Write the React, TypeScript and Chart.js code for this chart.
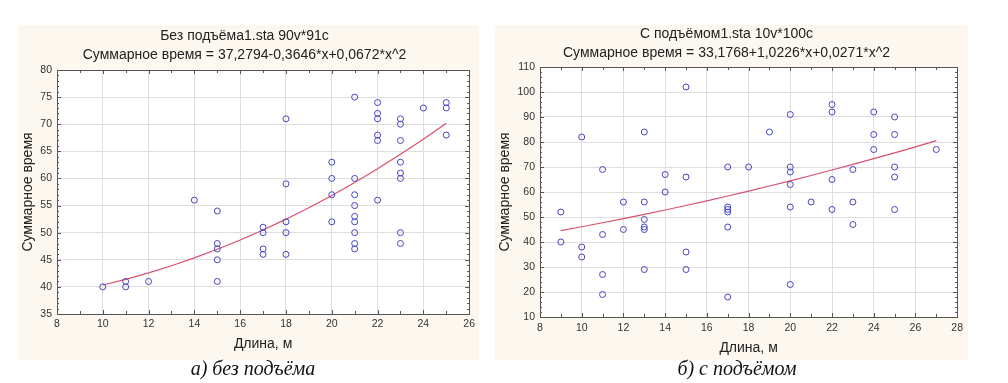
import { useEffect, useRef } from "react";
import { Chart, registerables } from "chart.js";

Chart.register(...registerables);

const FONT = "'Liberation Sans', Arial, Helvetica, sans-serif";
Chart.defaults.font.family = FONT;

// ---------- Left chart: без подъёма ----------
const leftTitle = ["Без подъёма1.sta 90v*91c", "Суммарное время = 37,2794-0,3646*x+0,0672*x^2"];
const leftLength = [
  10, 11, 11, 12, 14, 15, 15, 15, 15, 15, 17, 17, 17, 17, 18, 18, 18, 18, 18,
  20, 20, 20, 20, 21, 21, 21, 21, 21, 21, 21, 21, 21, 22, 22, 22, 22, 22, 22,
  23, 23, 23, 23, 23, 23, 23, 23, 24, 25, 25, 25,
];
const leftTime = [
  40, 41, 40, 41, 56, 54, 48, 47, 45, 41, 51, 50, 47, 46, 71, 59, 52, 50, 46,
  63, 60, 57, 52, 75, 60, 57, 55, 53, 52, 50, 48, 47, 74, 72, 71, 68, 67, 56,
  71, 70, 67, 63, 61, 60, 50, 48, 73, 74, 73, 68,
];
const leftFitX = [10, 11, 12, 13, 14, 15, 16, 17, 18, 19, 20, 21, 22, 23, 24, 25];
const leftFitY = [40.35, 41.4, 42.58, 43.9, 45.35, 46.93, 48.65, 50.5, 52.49, 54.61, 56.87, 59.26, 61.78, 64.44, 67.24, 70.16];
const leftCaption = "а) без подъёма";

// ---------- Right chart: с подъёмом ----------
const rightTitle = ["С подъёмом1.sta 10v*100c", "Суммарное время = 33,1768+1,0226*x+0,0271*x^2"];
const rightLength = [
  9, 9, 10, 10, 10, 11, 11, 11, 11, 12, 12, 13, 13, 13, 13, 13, 13, 14, 14,
  15, 15, 15, 15, 17, 17, 17, 17, 17, 17, 18, 19, 20, 20, 20, 20, 20, 20, 21,
  22, 22, 22, 22, 23, 23, 23, 24, 24, 24, 25, 25, 25, 25, 25, 27,
];
const rightTime = [
  52, 40, 82, 38, 34, 69, 43, 27, 19, 56, 45, 84, 56, 49, 46, 45, 29, 67, 60,
  102, 66, 36, 29, 70, 54, 53, 52, 46, 18, 70, 84, 91, 70, 68, 63, 54, 23, 56,
  95, 92, 65, 53, 69, 56, 47, 92, 83, 77, 90, 83, 70, 66, 53, 77,
];
const rightFitX = [9, 10, 11, 12, 13, 14, 15, 16, 17, 18, 19, 20, 21, 22, 23, 24, 25, 26, 27];
const rightFitY = [44.58, 46.11, 47.7, 49.35, 51.05, 52.8, 54.61, 56.48, 58.39, 60.36, 62.39, 64.47, 66.6, 68.79, 71.03, 73.33, 75.68, 78.08, 80.54];
const rightCaption = "б) с подъёмом";

const xTitle = "Длина, м";
const yTitle = "Суммарное время";

const CREAM = "#fcf8ef";
const POINT = "#4646c0";
const FIT = "#d9506c";
const GRID = "#dedede";
const AXIS = "#555555";
const TEXT = "#333333";

type Spec = {
  left: number;
  top: number;
  width: number;
  height: number;
  plotLeft: number;
  plotRight: number;
  plotTop: number;
  plotBottom: number;
  titlePadTop: number;
  xTickPad: number;
  xTitlePadBottom: number;
  title: string[];
  xs: number[];
  ys: number[];
  fitX: number[];
  fitY: number[];
  xMin: number;
  xMax: number;
  xStep: number;
  yMin: number;
  yMax: number;
  yStep: number;
  caption: string;
  captionX: number;
};

const specs: Spec[] = [
  {
    left: 18, top: 25, width: 461, height: 335,
    plotLeft: 39, plotRight: 453, plotTop: 45, plotBottom: 289,
    titlePadTop: 2, xTickPad: 4, xTitlePadBottom: 7,
    title: leftTitle, xs: leftLength, ys: leftTime, fitX: leftFitX, fitY: leftFitY,
    xMin: 8, xMax: 26, xStep: 2, yMin: 35, yMax: 80, yStep: 5,
    caption: leftCaption, captionX: 253,
  },
  {
    left: 495, top: 25, width: 473, height: 335,
    plotLeft: 45, plotRight: 463, plotTop: 42, plotBottom: 292,
    titlePadTop: 0, xTickPad: 5, xTitlePadBottom: 3,
    title: rightTitle, xs: rightLength, ys: rightTime, fitX: rightFitX, fitY: rightFitY,
    xMin: 8, xMax: 28, xStep: 2, yMin: 10, yMax: 110, yStep: 10,
    caption: rightCaption, captionX: 737,
  },
];

const framePlugin = {
  id: "frame",
  beforeDraw(chart: any) {
    const { ctx, chartArea: a } = chart;
    ctx.save();
    ctx.fillStyle = "#ffffff";
    ctx.fillRect(a.left, a.top, a.right - a.left, a.bottom - a.top);
    ctx.restore();
  },
  afterDraw(chart: any) {
    const { ctx, chartArea: a } = chart;
    const xs = chart.scales.x;
    const ys = chart.scales.y;
    ctx.save();
    ctx.strokeStyle = AXIS;
    ctx.lineWidth = 1;
    ctx.strokeRect(Math.round(a.left) + 0.5, Math.round(a.top) + 0.5, Math.round(a.right - a.left), Math.round(a.bottom - a.top));
    ctx.beginPath();
    const xMinor = xs.options.ticks.stepSize / 2;
    for (let v = xs.min; v <= xs.max + 1e-9; v += xMinor) {
      const p = Math.round(xs.getPixelForValue(v)) + 0.5;
      const major = Math.abs(((v - xs.min) / xs.options.ticks.stepSize) % 1) < 1e-6;
      const len = major ? 4 : 3;
      ctx.moveTo(p, a.top);
      ctx.lineTo(p, a.top + len);
      ctx.moveTo(p, a.bottom);
      ctx.lineTo(p, a.bottom - len);
    }
    const yMinor = ys.options.ticks.stepSize / 5;
    for (let v = ys.min; v <= ys.max + 1e-9; v += yMinor) {
      const p = Math.round(ys.getPixelForValue(v)) + 0.5;
      const major = Math.abs(((v - ys.min) / ys.options.ticks.stepSize) % 1) < 1e-6;
      const len = major ? 4 : 2;
      ctx.moveTo(a.left, p);
      ctx.lineTo(a.left + len, p);
      ctx.moveTo(a.right, p);
      ctx.lineTo(a.right - len, p);
    }
    ctx.stroke();
    ctx.restore();
  },
};

function ScatterPanel({ spec }: { spec: Spec }) {
  const ref = useRef<HTMLCanvasElement | null>(null);

  useEffect(() => {
    const canvas = ref.current;
    if (!canvas) return;
    const points = spec.xs.map((x, i) => ({ x, y: spec.ys[i] }));
    const fit = spec.fitX.map((x, i) => ({ x, y: spec.fitY[i] }));
    const chart = new Chart(canvas, {
      type: "scatter",
      data: {
        datasets: [
          {
            data: fit,
            showLine: true,
            borderColor: FIT,
            borderWidth: 1.2,
            pointRadius: 0,
            fill: false,
            tension: 0,
            order: 2,
          } as any,
          {
            data: points,
            pointRadius: 3,
            pointStyle: "circle",
            borderColor: POINT,
            backgroundColor: "rgba(0,0,0,0)",
            borderWidth: 1,
            order: 1,
          } as any,
        ],
      },
      options: {
        responsive: false,
        animation: false,
        events: [],
        layout: {
          padding: { left: 0, top: 0, bottom: 0, right: spec.width - spec.plotRight },
        },
        plugins: {
          legend: { display: false },
          tooltip: { enabled: false },
          title: {
            display: true,
            text: spec.title,
            color: "#222222",
            font: { family: FONT, size: 14, weight: "normal", lineHeight: 19 / 14 },
            padding: { top: spec.titlePadTop, bottom: spec.plotTop - spec.titlePadTop - 38 },
          },
        },
        scales: {
          x: {
            type: "linear",
            min: spec.xMin,
            max: spec.xMax,
            ticks: {
              stepSize: spec.xStep,
              color: TEXT,
              font: { family: FONT, size: 10.5 },
              padding: spec.xTickPad,
              maxRotation: 0,
            },
            grid: { color: GRID, drawTicks: false },
            border: { color: AXIS, width: 1 },
            title: {
              display: true,
              text: xTitle,
              color: "#222222",
              font: { family: FONT, size: 14, lineHeight: 1.2 },
              padding: { top: 0, bottom: spec.xTitlePadBottom },
            },
            afterFit: (s: any) => {
              s.height = spec.height - spec.plotBottom;
            },
          },
          y: {
            type: "linear",
            min: spec.yMin,
            max: spec.yMax,
            ticks: {
              stepSize: spec.yStep,
              color: TEXT,
              font: { family: FONT, size: 10.5 },
              padding: 5,
            },
            grid: { color: GRID, drawTicks: false },
            border: { color: AXIS, width: 1 },
            title: {
              display: true,
              text: yTitle,
              color: "#222222",
              font: { family: FONT, size: 14, lineHeight: 1.2 },
              padding: { top: 2, bottom: 0 },
            },
            afterFit: (s: any) => {
              s.width = spec.plotLeft;
            },
          },
        },
      } as any,
      plugins: [framePlugin],
    });
    return () => chart.destroy();
  }, [spec]);

  return (
    <>
      <div
        style={{
          position: "absolute",
          left: spec.left,
          top: spec.top,
          width: spec.width,
          height: spec.height,
          background: CREAM,
        }}
      >
        <canvas
          ref={ref}
          width={spec.width}
          height={spec.height}
          style={{ display: "block", width: spec.width, height: spec.height }}
        />
      </div>
      <div
        style={{
          position: "absolute",
          left: spec.captionX - 150,
          width: 300,
          top: 355,
          textAlign: "center",
          fontFamily: "'Liberation Serif', 'Times New Roman', serif",
          fontStyle: "italic",
          fontSize: 20,
          lineHeight: "26px",
          color: "#111111",
        }}
      >
        {spec.caption}
      </div>
    </>
  );
}

export default function App() {
  return (
    <div
      style={{
        position: "absolute",
        left: 0,
        top: 0,
        width: 1008,
        height: 383,
        background: "#ffffff",
        overflow: "hidden",
      }}
    >
      {specs.map((s, i) => (
        <ScatterPanel key={i} spec={s} />
      ))}
    </div>
  );
}
